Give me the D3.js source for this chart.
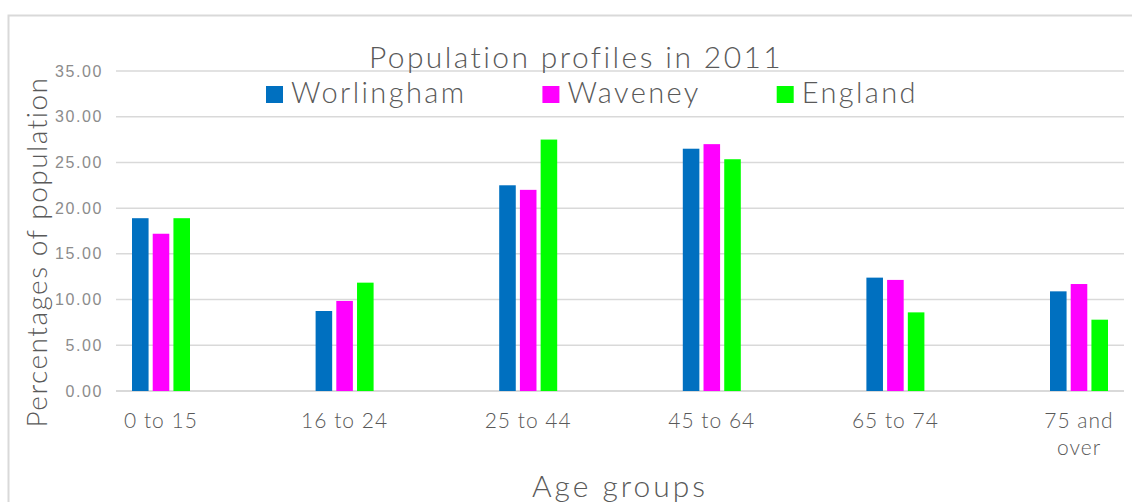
<!DOCTYPE html>
<html>
<head>
<meta charset="utf-8">
<script src="https://cdn.jsdelivr.net/npm/d3@7"></script>
<style>
    body { margin: 0; background: #fff; }
    svg { font-family: "Lato", "Open Sans", sans-serif; font-weight: 300; }
</style>
</head>
<body>
<div id="chart"></div>
<script>
// Chart data
const ageGroups = ["0 to 15", "16 to 24", "25 to 44", "45 to 64", "65 to 74", "75 and over"];
const seriesNames = ["Worlingham", "Waveney", "England"];
const worlingham = [18.9, 8.75, 22.5, 26.5, 12.4, 10.9];
const waveney = [17.2, 9.85, 22.0, 27.0, 12.15, 11.7];
const england = [18.9, 11.85, 27.5, 25.35, 8.6, 7.8];
const yTicks = [0, 5, 10, 15, 20, 25, 30, 35];
const colors = ["#0070c0", "#ff00ff", "#00ff00"];

const width = 1132;
const height = 502;

const svg = d3.select("#chart").append("svg")
    .attr("width", width)
    .attr("height", height);

// Chart area border
svg.append("rect")
    .attr("x", 8.5)
    .attr("y", 15.5)
    .attr("width", 1140)
    .attr("height", 500)
    .attr("fill", "none")
    .attr("stroke", "#d9d9d9")
    .attr("stroke-width", 2);

const plotLeft = 116, plotRight = 1124;
const plotTop = 71, plotBottom = 391;

// Group centres, then bars inside each group
let xScale = d3.scalePoint()
    .domain(ageGroups)
    .range([161, 1079]);
let xInner = d3.scaleBand()
    .domain(seriesNames)
    .range([-29, 29])
    .paddingInner(0.2);
let yScale = d3.scaleLinear()
    .domain([0, 35])
    .range([plotBottom, plotTop]);

// Gridlines
svg.append("g")
    .selectAll("line")
    .data(yTicks)
    .enter().append("line")
        .attr("x1", plotLeft)
        .attr("x2", plotRight)
        .attr("y1", d => yScale(d))
        .attr("y2", d => yScale(d))
        .attr("stroke", "#d9d9d9")
        .attr("stroke-width", d => d === 0 ? 2 : 1.5);

// Y axis tick labels
let yAxis = d3.axisLeft(yScale)
    .tickValues(yTicks)
    .tickFormat(d3.format(".2f"))
    .tickSize(0)
    .tickPadding(0);
let yAxisG = svg.append("g")
    .attr("transform", `translate(103,0)`)
    .call(yAxis);
yAxisG.select(".domain").remove();
yAxisG.selectAll("text")
    .attr("fill", "#8c8c8c")
    .style("font-size", "16px")
    .style("letter-spacing", "1.6px")
    .style("font-family", "inherit");

// Bars
let rows = [];
ageGroups.forEach((g, i) => {
    [worlingham, waveney, england].forEach((series, s) => {
        rows.push({ group: g, name: seriesNames[s], value: series[i], color: colors[s] });
    });
});
svg.append("g")
    .selectAll("rect")
    .data(rows)
    .enter().append("rect")
        .attr("x", d => xScale(d.group) + xInner(d.name))
        .attr("y", d => yScale(d.value))
        .attr("width", xInner.bandwidth())
        .attr("height", d => plotBottom - yScale(d.value))
        .attr("fill", d => d.color);

// X axis labels (wrap "75 and over")
let xLabels = svg.append("g")
    .selectAll("text")
    .data(ageGroups)
    .enter().append("text")
        .attr("x", d => xScale(d))
        .attr("y", 428)
        .attr("text-anchor", "middle")
        .attr("fill", "#595959")
        .style("font-size", "21px")
        .style("letter-spacing", "1px");
xLabels.each(function(d) {
    let lines = d === "75 and over" ? ["75 and", "over"] : [d];
    lines.forEach((line, k) => {
        d3.select(this).append("tspan")
            .attr("x", xScale(d))
            .attr("dy", k === 0 ? 0 : 27)
            .text(line);
    });
});

// Title
svg.append("text")
    .attr("x", 576)
    .attr("y", 68)
    .attr("text-anchor", "middle")
    .attr("fill", "#595959")
    .style("font-size", "30px")
    .style("letter-spacing", "2.4px")
    .text("Population profiles in 2011");

// Legend
let legendX = 266;
seriesNames.forEach((name, s) => {
    svg.append("rect")
        .attr("x", legendX)
        .attr("y", 86)
        .attr("width", 17)
        .attr("height", 17)
        .attr("fill", colors[s]);
    let t = svg.append("text")
        .attr("x", legendX + 25)
        .attr("y", 103)
        .attr("fill", "#595959")
        .style("font-size", "29px")
        .style("letter-spacing", "2.4px")
        .text(name);
    legendX += 25 + t.node().getComputedTextLength() + 76;
});

// Axis titles
svg.append("text")
    .attr("transform", "translate(47,252) rotate(-90)")
    .attr("text-anchor", "middle")
    .attr("fill", "#595959")
    .style("font-size", "28px")
    .style("letter-spacing", "1.5px")
    .text("Percentages of population");

svg.append("text")
    .attr("x", 620)
    .attr("y", 497)
    .attr("text-anchor", "middle")
    .attr("fill", "#595959")
    .style("font-size", "30px")
    .style("letter-spacing", "3px")
    .text("Age groups");
</script>
</body>
</html>
